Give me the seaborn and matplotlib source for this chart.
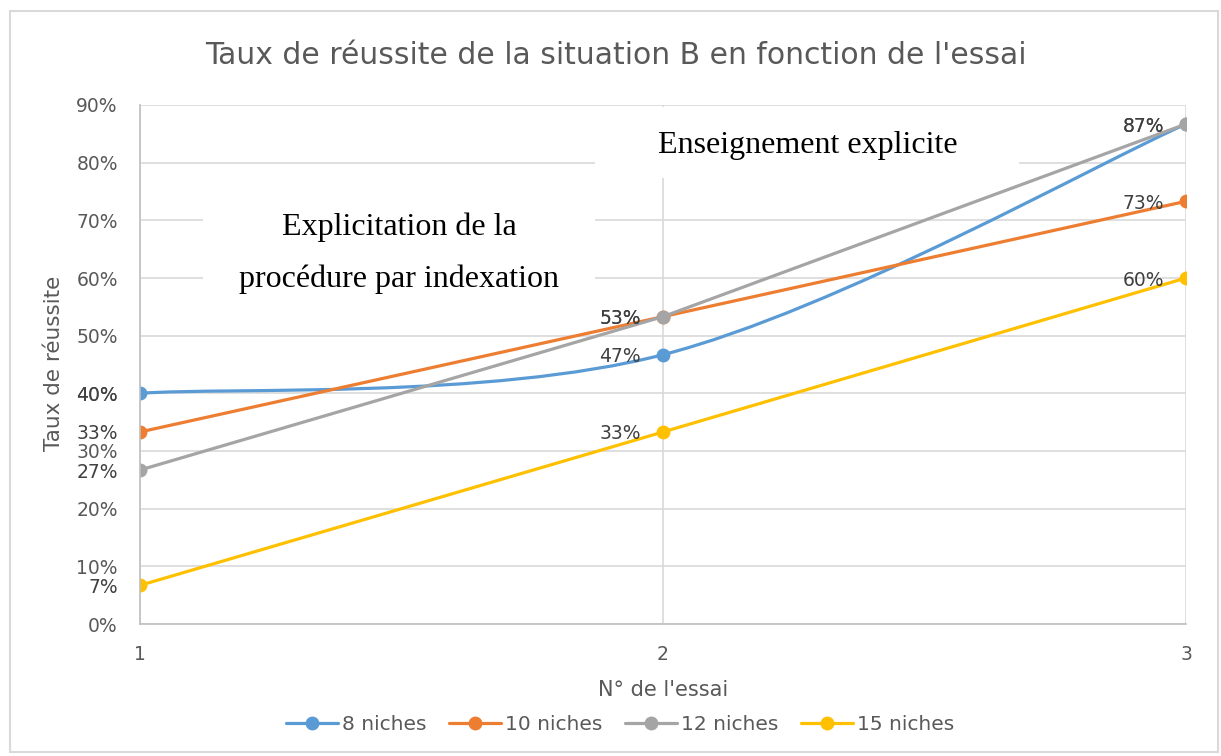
import numpy as np
import pandas as pd
import matplotlib
matplotlib.use("Agg")
import matplotlib.pyplot as plt
import seaborn as sns
from matplotlib.path import Path
from matplotlib.patches import PathPatch, Rectangle
from matplotlib.lines import Line2D

# data (taux de réussite en %)
essais = [1, 2, 3]
series = ["8 niches", "10 niches", "12 niches", "15 niches"]
taux_8 = [40.0, 46.7, 86.7]
taux_10 = [33.3, 53.3, 73.3]
taux_12 = [26.7, 53.3, 86.7]
taux_15 = [6.7, 33.3, 60.0]
colors = ["#5B9BD5", "#ED7D31", "#A5A5A5", "#FFC000"]
yticks = [0, 10, 20, 30, 40, 50, 60, 70, 80, 90]

all_vals = [taux_8, taux_10, taux_12, taux_15]
df = pd.DataFrame({
    "essai": essais * len(series),
    "taux": taux_8 + taux_10 + taux_12 + taux_15,
    "serie": np.repeat(series, len(essais)),
})

sns.set_style("white")
plt.rcParams["font.family"] = ["DejaVu Sans"]
grey_txt = "#595959"
grid_c = "#d9d9d9"

fig = plt.figure(figsize=(12.21, 7.56), dpi=100)
ax = fig.add_axes([140 / 1221, 1 - 624 / 756, 1046 / 1221, 519 / 756])

sns.lineplot(data=df, x="essai", y="taux", hue="serie", palette=colors,
             hue_order=series, marker="o", markersize=10, markeredgewidth=0,
             linewidth=2.3, legend=False, sort=False, ax=ax)

# 8 niches is drawn as a smoothed line in the original (Excel style)
blue = ax.lines[0]
blue.set_linestyle("none")
pts = np.column_stack([essais, taux_8])
verts = [pts[0]]
codes = [Path.MOVETO]
for i in range(len(pts) - 1):
    p_prev = pts[max(i - 1, 0)]
    p_next = pts[min(i + 2, len(pts) - 1)]
    c1 = pts[i] + (pts[i + 1] - p_prev) / 6
    c2 = pts[i + 1] - (p_next - pts[i]) / 6
    verts += [c1, c2, pts[i + 1]]
    codes += [Path.CURVE4] * 3
ax.add_patch(PathPatch(Path(verts, codes), fill=False, edgecolor=colors[0],
                       linewidth=2.3, zorder=1.9, capstyle="round"))

# data labels, placed left of each point
for vals in all_vals:
    for x, v in zip(essais, vals):
        ax.annotate(f"{v:.0f}%", (x, v), xytext=(-16, 0), textcoords="offset points",
                    ha="right", va="center_baseline", fontsize=13.5, color="#404040",
                    annotation_clip=False, zorder=5)

ax.set_xlim(1, 3)
ax.set_ylim(0, 90)
ax.set_xticks(essais)
ax.set_xticklabels([str(e) for e in essais])
ax.set_yticks(yticks)
ax.set_yticklabels([f"{t}%" for t in yticks])
ax.tick_params(axis="both", length=0, labelsize=13.5, labelcolor=grey_txt)
ax.tick_params(axis="y", pad=16)
ax.tick_params(axis="x", pad=15)
ax.set_axisbelow(True)
ax.grid(True, color=grid_c, linewidth=1.2)
for s in ["top", "right"]:
    ax.spines[s].set_visible(False)
for s in ["left", "bottom"]:
    ax.spines[s].set_color("#bfbfbf")
    ax.spines[s].set_linewidth(1.2)

ax.set_xlabel("N° de l'essai", fontsize=15, color=grey_txt)
ax.set_ylabel("Taux de réussite", fontsize=15.5, color=grey_txt)
ax.xaxis.set_label_coords(0.5, -0.108)
ax.yaxis.set_label_coords(-0.073, 0.503)

# annotation boxes (white, covering the grid)
box1 = Rectangle((0.435, 0.859), 0.405, 0.137, transform=ax.transAxes,
                 facecolor="white", edgecolor="none", zorder=1.5)
ax.add_patch(box1)
ax.text(0.638, 0.9075, "Enseignement explicite", transform=ax.transAxes,
        ha="center", va="baseline", fontsize=23, family="Liberation Serif",
        color="black", zorder=1.6)

box2 = Rectangle((0.060, 0.640), 0.375, 0.187, transform=ax.transAxes,
                 facecolor="white", edgecolor="none", zorder=1.5)
ax.add_patch(box2)
ax.text(0.248, 0.7495, "Explicitation de la", transform=ax.transAxes,
        ha="center", va="baseline", fontsize=23, family="Liberation Serif",
        color="black", zorder=1.6)
t2 = ax.text(0.248, 0.649, "procédure par indexation", transform=ax.transAxes,
             ha="center", va="baseline", fontsize=23, family="Liberation Serif",
             color="black", zorder=1.6)
t2.set_clip_path(box2)

fig.text(0.5045, 1 - 55 / 756, "Taux de réussite de la situation B en fonction de l'essai",
         ha="center", va="center", fontsize=21.5, color=grey_txt)

handles = [Line2D([], [], color=c, linewidth=2.3, marker="o", markersize=10,
                  markeredgewidth=0) for c in colors]
leg = fig.legend(handles, series, loc="center", bbox_to_anchor=(620 / 1221, 1 - 725 / 756),
                 ncol=4, frameon=False, fontsize=14.5, handlelength=2.6,
                 handletextpad=0.2, columnspacing=1.1)
for txt in leg.get_texts():
    txt.set_color(grey_txt)

fig.add_artist(Rectangle((10 / 1221, 4 / 756), 1208 / 1221, 741 / 756,
                         transform=fig.transFigure, fill=False,
                         edgecolor=grid_c, linewidth=1.5))

fig.savefig("out.png", dpi=100)
